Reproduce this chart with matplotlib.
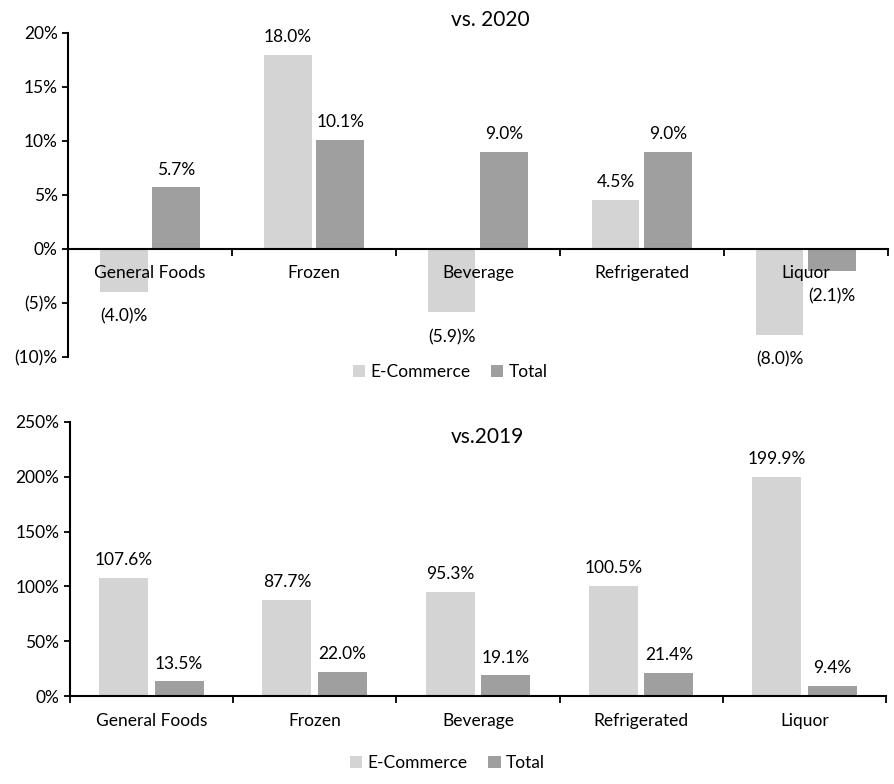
import numpy as np
import matplotlib.pyplot as plt
from matplotlib.ticker import FuncFormatter

plt.rcParams['font.family'] = ['Lato', 'DejaVu Sans']

categories = ['General Foods', 'Frozen', 'Beverage', 'Refrigerated', 'Liquor']
ecom_2020 = [-4.0, 18.0, -5.9, 4.5, -8.0]
total_2020 = [5.7, 10.1, 9.0, 9.0, -2.1]
ecom_2019 = [107.6, 87.7, 95.3, 100.5, 199.9]
total_2019 = [13.5, 22.0, 19.1, 21.4, 9.4]

c_ecom = '#d4d4d4'
c_total = '#9f9f9f'


def pct_label(v, decimals=1):
    s = '{:.{d}f}'.format(abs(v), d=decimals)
    return '({})%'.format(s) if v < 0 else s + '%'


def style_axes(ax, n):
    for s in ['top', 'right']:
        ax.spines[s].set_visible(False)
    ax.spines['left'].set_linewidth(1.5)
    ax.spines['bottom'].set_linewidth(1.5)
    ax.set_xlim(-0.5, n - 0.5)
    ax.set_xticks(np.arange(n + 1) - 0.5)
    ax.set_xticklabels([])
    ax.set_xticks(np.arange(n), minor=True)
    ax.set_xticklabels(categories, minor=True, fontsize=12.5)
    ax.tick_params(axis='x', which='major', direction='out', length=5, width=1.3)
    ax.tick_params(axis='x', which='minor', length=0, pad=12, labelsize=12.5)
    ax.tick_params(axis='y', direction='out', length=4, width=1.3, labelsize=12.5)


def label_bars(ax, xs, vals, up_off, down_off):
    for x, v in zip(xs, vals):
        if v >= 0:
            ax.annotate(pct_label(v), (x, v), xytext=(0, up_off), textcoords='offset points',
                        ha='center', va='bottom', fontsize=12.5)
        else:
            ax.annotate(pct_label(v), (x, v), xytext=(0, -down_off), textcoords='offset points',
                        ha='center', va='top', fontsize=12.5)


fig = plt.figure(figsize=(8.95, 7.84), dpi=100)
n = len(categories)
x = np.arange(n)

# top chart: vs. 2020
ax1 = fig.add_axes([0.076, 0.545, 0.916, 0.413])
ax1.spines['bottom'].set_position(('data', 0))
w1 = 0.29
ax1.bar(x - 0.16, ecom_2020, w1, color=c_ecom, label='E-Commerce')
ax1.bar(x + 0.16, total_2020, w1, color=c_total, label='Total')
ax1.set_ylim(-10, 20)
ax1.set_yticks([-10, -5, 0, 5, 10, 15, 20])
ax1.yaxis.set_major_formatter(FuncFormatter(lambda v, p: pct_label(v, 0)))
style_axes(ax1, n)
label_bars(ax1, x - 0.16, ecom_2020, 7, 12)
label_bars(ax1, x + 0.16, total_2020, 7, 12)
fig.text(0.548, 0.975, 'vs. 2020', ha='center', va='center', fontsize=15)
fig.legend(*ax1.get_legend_handles_labels(), loc='center', bbox_to_anchor=(0.503, 0.525),
           ncol=2, frameon=False, fontsize=12.5, handlelength=0.7, handleheight=0.7,
           handletextpad=0.3, columnspacing=1.2)

# bottom chart: vs. 2019
ax2 = fig.add_axes([0.078, 0.112, 0.912, 0.350])
w2 = 0.30
ax2.bar(x - 0.17, ecom_2019, w2, color=c_ecom, label='E-Commerce')
ax2.bar(x + 0.17, total_2019, w2, color=c_total, label='Total')
ax2.set_ylim(0, 250)
ax2.set_yticks(np.arange(0, 251, 50))
ax2.yaxis.set_major_formatter(FuncFormatter(lambda v, p: '{:.0f}%'.format(v)))
style_axes(ax2, n)
label_bars(ax2, x - 0.17, ecom_2019, 7, 12)
label_bars(ax2, x + 0.17, total_2019, 7, 12)
fig.text(0.545, 0.443, 'vs.2019', ha='center', va='center', fontsize=15)
fig.legend(*ax2.get_legend_handles_labels(), loc='center', bbox_to_anchor=(0.5, 0.027),
           ncol=2, frameon=False, fontsize=12.5, handlelength=0.7, handleheight=0.7,
           handletextpad=0.3, columnspacing=1.2)

fig.savefig('out.png', dpi=100)
